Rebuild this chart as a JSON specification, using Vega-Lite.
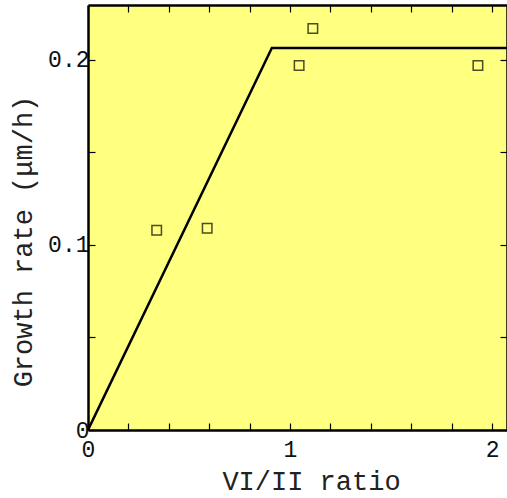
{
  "$schema": "https://vega.github.io/schema/vega-lite/v6.json",
  "autosize": "none",
  "width": 419,
  "height": 425,
  "padding": {"left": 88, "top": 5, "right": 0, "bottom": 68},
  "background": "white",
  "config": {
    "view": {"fill": "#FFFF80", "stroke": null},
    "font": "Liberation Mono",
    "axis": {
      "domainColor": "black", "domainWidth": 2.5, "tickColor": "black", "tickWidth": 1.2,
      "tickSize": -7, "labelFont": "Liberation Mono", "titleFont": "Liberation Mono",
      "labelFontSize": 23, "titleFontSize": 27, "titleFontWeight": "normal",
      "labelColor": "#111", "titleColor": "#222", "grid": false
    }
  },
  "datasets": {
    "pts": [
      {"ratio": 0.34, "rate": 0.108},
      {"ratio": 0.59, "rate": 0.109},
      {"ratio": 1.045, "rate": 0.197},
      {"ratio": 1.113, "rate": 0.217},
      {"ratio": 1.93, "rate": 0.197}
    ],
    "fit": [
      {"ratio": 0, "rate": 0},
      {"ratio": 0.91, "rate": 0.2065},
      {"ratio": 2.08, "rate": 0.2065}
    ]
  },
  "layer": [
    {
      "data": {"name": "fit"},
      "mark": {"type": "line", "color": "black", "strokeWidth": 2.5, "clip": true},
      "encoding": {
        "x": {"field": "ratio", "type": "quantitative", "scale": {"domain": [0, 2.074], "nice": false},
          "axis": {"orient": "bottom", "title": "VI/II ratio", "values": [0,0.2,0.4,0.6,0.8,1,1.2,1.4,1.6,1.8,2],
            "labelExpr": "datum.value % 1 === 0 ? format(datum.value, 'd') : ''", "labelPadding": 15, "labelBaseline": "top", "titlePadding": 7, "titleX": 223, "labelFlush": false}},
        "y": {"field": "rate", "type": "quantitative", "scale": {"domain": [0, 0.2297], "nice": false},
          "axis": {"orient": "left", "title": "Growth rate (μm/h)", "values": [0,0.05,0.1,0.15,0.2],
            "labelExpr": "datum.value === 0 ? '0' : (abs(datum.value*10 - round(datum.value*10)) < 1e-6 ? format(datum.value, '.1f') : '')", "labelPadding": 6, "titlePadding": 10, "titleY": 236, "labelFlush": false}}
      }
    },
    {
      "data": {"name": "pts"},
      "mark": {"type": "point", "shape": "square", "filled": false, "color": "black", "size": 90, "strokeWidth": 1.5},
      "encoding": {
        "x": {"field": "ratio", "type": "quantitative",
          "axis": {"orient": "top", "title": null, "labels": false, "values": [0,0.2,0.4,0.6,0.8,1,1.2,1.4,1.6,1.8,2]}},
        "y": {"field": "rate", "type": "quantitative",
          "axis": {"orient": "right", "title": null, "labels": false, "values": [0,0.05,0.1,0.15,0.2]}}
      }
    }
  ],
  "resolve": {"axis": {"x": "independent", "y": "independent"}}
}
